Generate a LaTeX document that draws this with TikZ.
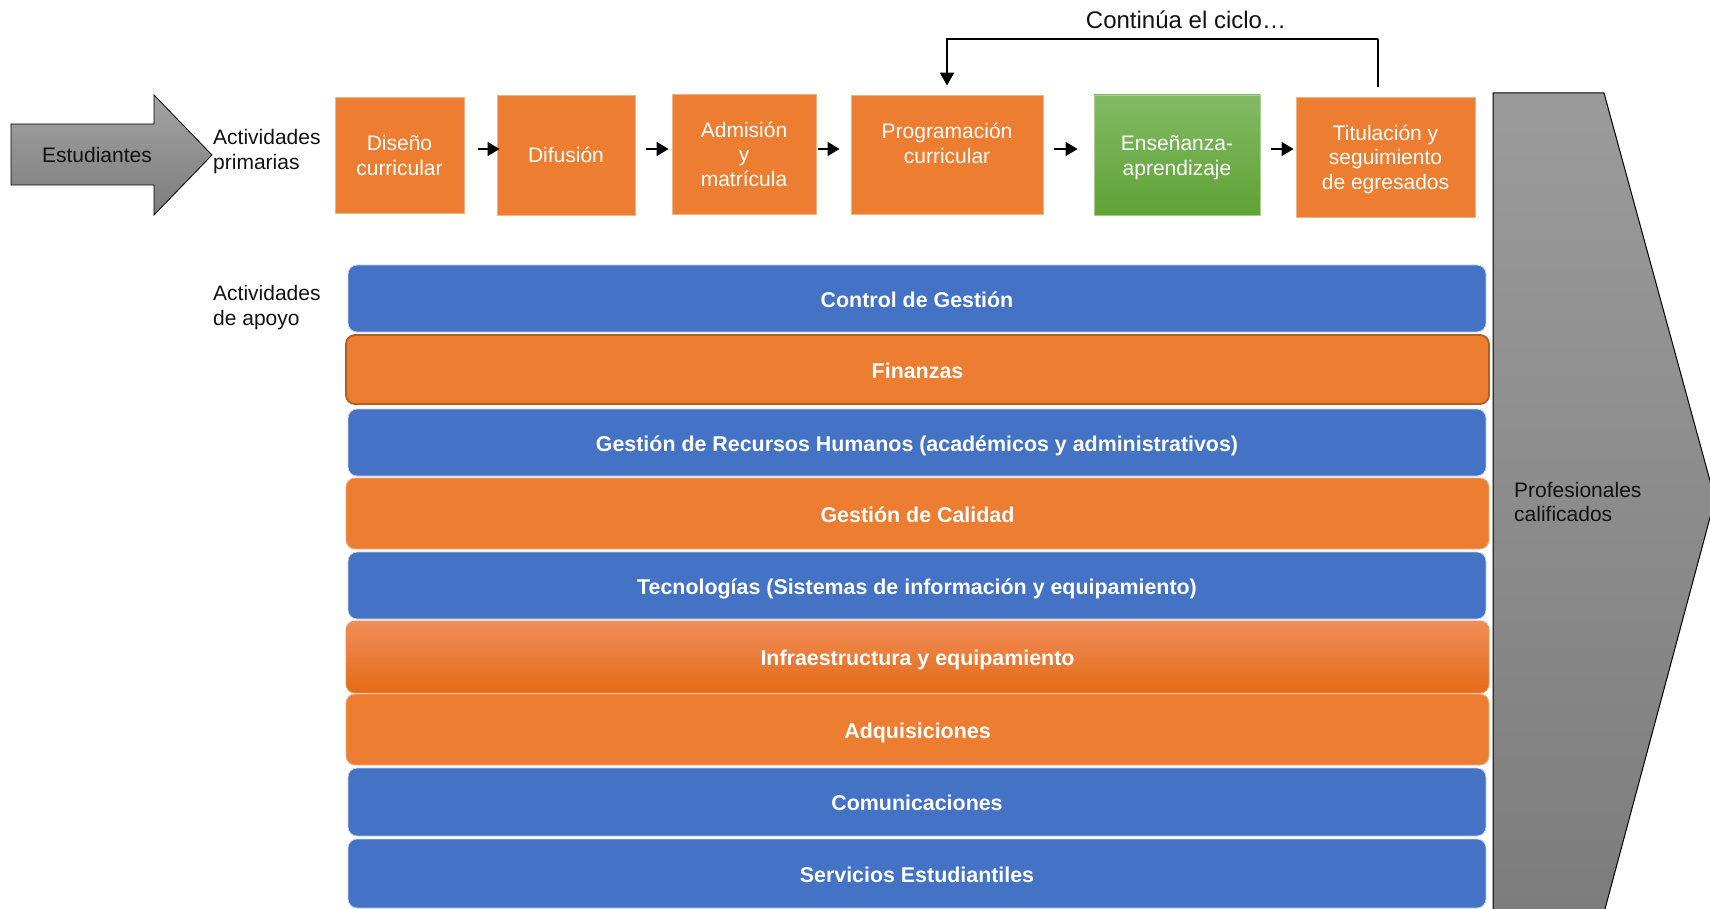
\documentclass[tikz,border=0pt]{standalone}
\usepackage{fontspec}
\setmainfont{Liberation Sans}
\usetikzlibrary{arrows.meta,calc}
\definecolor{orng}{HTML}{ED7D31}
\definecolor{orngline}{HTML}{F4B183}
\definecolor{blu}{HTML}{4472C4}
\definecolor{bluline}{HTML}{C9D5EE}
\definecolor{finline}{HTML}{B25E22}
\definecolor{grntop}{HTML}{82BA64}
\definecolor{grnbot}{HTML}{5FA234}
\definecolor{grytop}{HTML}{A3A3A3}
\definecolor{grybot}{HTML}{7C7C7C}
\definecolor{infratop}{HTML}{F18E58}
\definecolor{inframid}{HTML}{F47B28}
\definecolor{infrabot}{HTML}{E46A17}
\definecolor{ink}{HTML}{111111}
\newcommand{\topfix}{\rule{0pt}{23pt}}
\newcommand{\botfix}{\rule[-7.35pt]{0pt}{0pt}}
\begin{document}
\begin{tikzpicture}[x=1pt,y=-1pt,
  txt/.style={font=\fontsize{21}{24.5}\selectfont, text=ink, inner sep=0pt},
  pbox/.style={draw=orngline, line width=0.9pt, fill=orng, text=white, align=center,
    font=\fontsize{21}{24.5}\selectfont, inner sep=0pt},
  gbox/.style={pbox, draw=grntop!70!white, fill=none, top color=grntop, bottom color=grnbot},
  bar/.style={rounded corners=9pt, text=white, font=\bfseries\fontsize{21.4}{25}\selectfont,
    inner sep=0pt, text height=17.6pt, text depth=0pt},
  bbar/.style={bar, fill=blu, draw=bluline, line width=0.8pt, minimum width=1138pt},
  obar/.style={bar, fill=orng, draw=orngline, line width=0.8pt, minimum width=1143pt},
  sarr/.style={line width=1.4pt, -{Triangle[length=12pt,width=14pt]}},
  loopline/.style={line width=2.4pt}
]
\useasboundingbox (0,0) rectangle (1710,909);

% left input arrow
\path[draw=black, line width=0.8pt, top color=grytop, bottom color=grybot]
  (11,124) -- (154,124) -- (154,95) -- (212,155) -- (154,215) -- (154,185) -- (11,185) -- cycle;
\node[txt] (est) at (97,155) {Estudiantes};

% right output shape
\begin{scope}
\clip (0,0) rectangle (1710,909);
\path[draw=black, line width=1pt, top color=grytop!95!black, bottom color=grybot]
  (1493,93) -- (1604,93) -- (1715,499) -- (1598,935) -- (1493,935) -- cycle;
\end{scope}
\node[txt, anchor=west, align=left] (prof) at (1514,502) {Profesionales\\calificados};

% labels
\node[txt, anchor=west, align=left] (ap) at (213,151.7) {Actividades\\primarias};
\node[txt, anchor=west, align=left] (aa) at (213,307.7) {Actividades\\de apoyo};

% primary activities
\node[pbox, minimum width=129pt, minimum height=116pt] (p1) at (399.5,155) {\topfix Diseño\\curricular\botfix};
\node[pbox, minimum width=138pt, minimum height=120pt] (p2) at (566,155) {\topfix Difusión\botfix};
\node[pbox, minimum width=144pt, minimum height=120pt] (p3) at (744,154) {\topfix Admisión\\y\\matrícula\botfix};
\node[pbox, minimum width=192pt, minimum height=119pt] (p4) at (947,154.5) {\topfix Programación\\curricular\rule[-29.5pt]{0pt}{0pt}};
\node[gbox, minimum width=166pt, minimum height=120pt] (p5) at (1177,155) {\topfix Enseñanza-\\aprendizaje\botfix};
\node[pbox, minimum width=179pt, minimum height=120pt] (p6) at (1385.5,157) {\topfix Titulación y\\seguimiento\\de egresados\botfix};

% small arrows
\coordinate (ay) at (0,149);
\draw[sarr] ([xshift=14pt]p1.east |- ay) -- ([xshift=3pt]p2.west |- ay);
\draw[sarr] ([xshift=11pt]p2.east |- ay) -- ([xshift=-3pt]p3.west |- ay);
\draw[sarr] ([xshift=2pt]p3.east |- ay) -- ([xshift=-11pt]p4.west |- ay);
\draw[sarr] ([xshift=11pt]p4.east |- ay) -- ([xshift=-16pt]p5.west |- ay);
\draw[sarr] ([xshift=11pt]p5.east |- ay) -- ([xshift=-2pt]p6.west |- ay);

% loop back
\coordinate (ls) at (1378,87);
\coordinate (ltop) at (0,39);
\draw[line width=1.4pt] (ls) -- (ls |- ltop);
\draw[loopline, -{Triangle[length=13pt,width=14pt]}, shorten >=9pt] (ls |- ltop) -| (p4.north);
\node[txt, font=\fontsize{24}{28}\selectfont, anchor=base] (cont) at (1186,28.3) {Continúa el ciclo…};

% support activities
\node[bbar, minimum height=67pt] (s1) at (917,298.5) {Control de Gestión};
\node[obar, draw=finline, line width=1.8pt, minimum height=69pt] (s2) at (917.5,369.5) {Finanzas};
\node[bbar, minimum height=67pt] (s3) at (917,442.5) {Gestión de Recursos Humanos (académicos y administrativos)};
\node[obar, minimum height=71pt] (s4) at (917.5,513.5) {Gestión de Calidad};
\node[bbar, minimum height=67pt] (s5) at (917,585.5) {Tecnologías (Sistemas de información y equipamiento)};
\node[obar, fill=none, draw=infratop, top color=infratop, middle color=inframid, bottom color=infrabot, minimum height=72pt] (s6) at (917.5,657) {Infraestructura y equipamiento};
\node[obar, minimum height=71pt] (s7) at (917.5,729.5) {Adquisiciones};
\node[bbar, minimum height=68pt] (s8) at (917,802) {Comunicaciones};
\node[bbar, minimum height=69pt] (s9) at (917,873.5) {Servicios Estudiantiles};
\end{tikzpicture}
\end{document}
